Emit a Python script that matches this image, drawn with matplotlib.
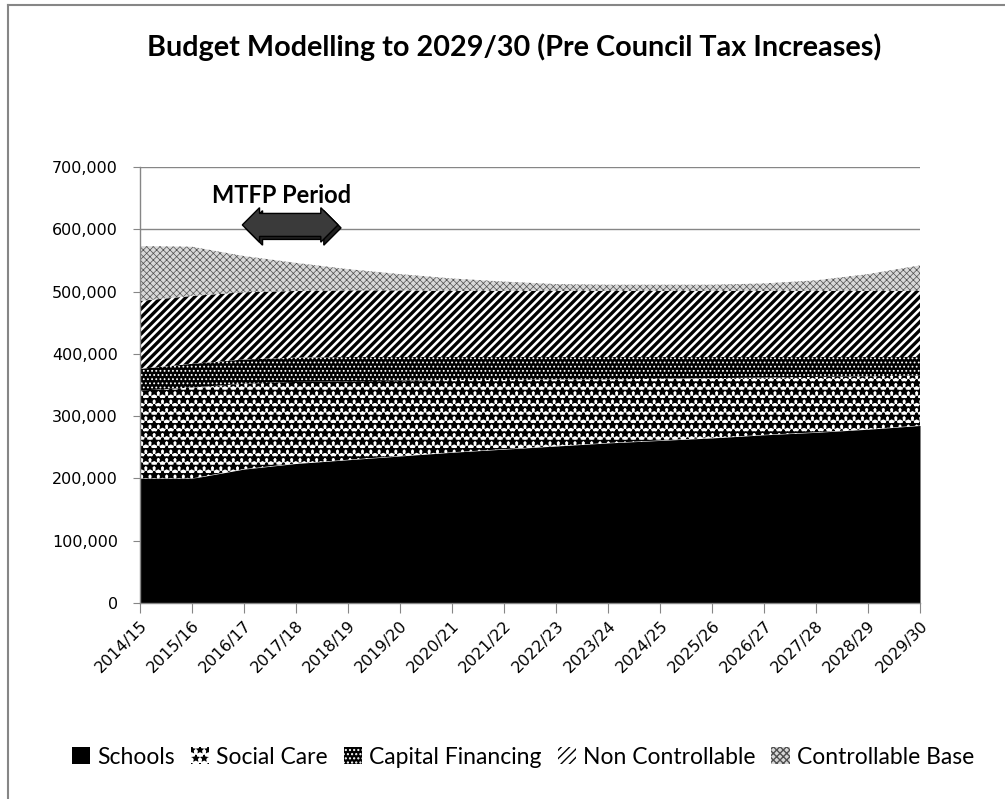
import matplotlib
matplotlib.use("Agg")
import matplotlib.pyplot as plt
import numpy as np
from matplotlib.patches import Patch, FancyBboxPatch
from matplotlib.lines import Line2D
from matplotlib.transforms import IdentityTransform
from matplotlib.ticker import FuncFormatter

plt.rcParams["font.family"] = ["Lato", "DejaVu Sans"]

years = ["2014/15", "2015/16", "2016/17", "2017/18", "2018/19", "2019/20",
         "2020/21", "2021/22", "2022/23", "2023/24", "2024/25", "2025/26",
         "2026/27", "2027/28", "2028/29", "2029/30"]

# values in £000s
schools = [200, 200, 215, 224, 230, 236, 242, 247, 252, 257, 261, 265, 270, 274, 279, 285]
social_care = [141, 146, 137, 131, 126, 121, 116, 111, 107, 102, 99, 96, 92, 89, 85, 80]
capital_financing = [35, 38, 39, 39, 39, 38, 37, 37, 36, 36, 35, 34, 33, 32, 31, 30]
non_controllable = [109, 109, 108, 107, 107, 107, 106, 106, 106, 106, 106, 106, 106, 106, 106, 106]
controllable_base = [88, 79, 58, 45, 34, 26, 20, 15, 11, 10, 10, 10, 12, 17, 27, 41]

series = ["Schools", "Social Care", "Capital Financing", "Non Controllable", "Controllable Base"]
values = [schools, social_care, capital_financing, non_controllable, controllable_base]

# face, hatch colour, hatch, hatch linewidth
styles = [
    ("black", "black", None, 1.0),
    ("white", "black", "**", 1.6),
    ("black", "white", "....", 0.8),
    ("white", "black", "////", 2.4),
    ("#d8d8d8", "#505050", "xxxxx", 0.5),
]

GRID = "#868686"
TICKFONT = "DejaVu Sans"

fig = plt.figure(figsize=(10.05, 7.99), dpi=100)
W, H = 1005, 799
ax = fig.add_axes([140 / W, 1 - 603 / H, 780 / W, 436 / H])

x = np.arange(len(years))
base = np.zeros(len(years))
handles = []
for name, vals, (fc, hc, hatch, hlw) in zip(series, values, styles):
    top = base + np.array(vals) * 1000
    with plt.rc_context({"hatch.linewidth": hlw}):
        pc = ax.fill_between(x, base, top, facecolor=fc, edgecolor=hc,
                             hatch=hatch, linewidth=0, zorder=2)
        h = Patch(facecolor=fc, edgecolor=hc, hatch=hatch, linewidth=0, label=name)
    if hasattr(pc, "set_hatch_linewidth"):
        pc.set_hatch_linewidth(hlw)
        h.set_hatch_linewidth(min(hlw, 1.6))
    handles.append(h)
    base = top

ax.set_xlim(0, len(years) - 1)
ax.set_ylim(0, 700000)
ax.set_yticks(np.arange(0, 700001, 100000))
ax.yaxis.set_major_formatter(FuncFormatter(lambda v, p: f"{v:,.0f}"))
ax.set_xticks(x)
ax.set_xticklabels(years, rotation=45, ha="right", rotation_mode="anchor")
ax.grid(axis="y", color=GRID, linewidth=1.0, zorder=1)
ax.set_axisbelow(True)
for s in ["top", "right"]:
    ax.spines[s].set_visible(False)
for s in ["left", "bottom"]:
    ax.spines[s].set_color(GRID)
    ax.spines[s].set_linewidth(1.0)
    ax.spines[s].set_zorder(3)
ax.tick_params(axis="x", length=7, color=GRID, labelsize=11.5, pad=4,
               labelfontfamily=TICKFONT)
ax.tick_params(axis="y", length=5, color=GRID, labelsize=11.5, pad=11,
               labelfontfamily=TICKFONT)

# MTFP period annotation
ax.text(2.73, 655000, "MTFP Period", ha="center", va="center",
        fontsize=17, fontweight="bold", zorder=6)
cx, cy = ax.transData.transform((2.9, 607000))
bh = 23
for off, col, z in [((3, -3), "#202020", 4), ((0, 0), "#3a3a3a", 5)]:
    arr = FancyBboxPatch((cx - 37 + off[0], cy - bh / 2 + off[1]), 67, bh,
                         boxstyle="darrow,pad=0", transform=IdentityTransform(),
                         facecolor=col, edgecolor="black",
                         linewidth=1.0, zorder=z)
    fig.add_artist(arr)

fig.text(514 / W, 1 - 47 / H, "Budget Modelling to 2029/30 (Pre Council Tax Increases)",
         ha="center", va="center", fontsize=20.7, fontweight="bold")

leg = fig.legend(handles=handles, loc="center", bbox_to_anchor=(523 / W, 1 - 757 / H),
                 ncol=5, frameon=False, fontsize=16.5, handlelength=0.8, handleheight=0.8,
                 handletextpad=0.3, columnspacing=0.7, borderpad=0)

# chart border (top and left edges visible)
fig.add_artist(Line2D([8 / W, 1.0], [1 - 5 / H, 1 - 5 / H], color=GRID, linewidth=1.5))
fig.add_artist(Line2D([8 / W, 8 / W], [0.0, 1 - 5 / H], color=GRID, linewidth=1.5))

fig.savefig("out.png", dpi=100)
